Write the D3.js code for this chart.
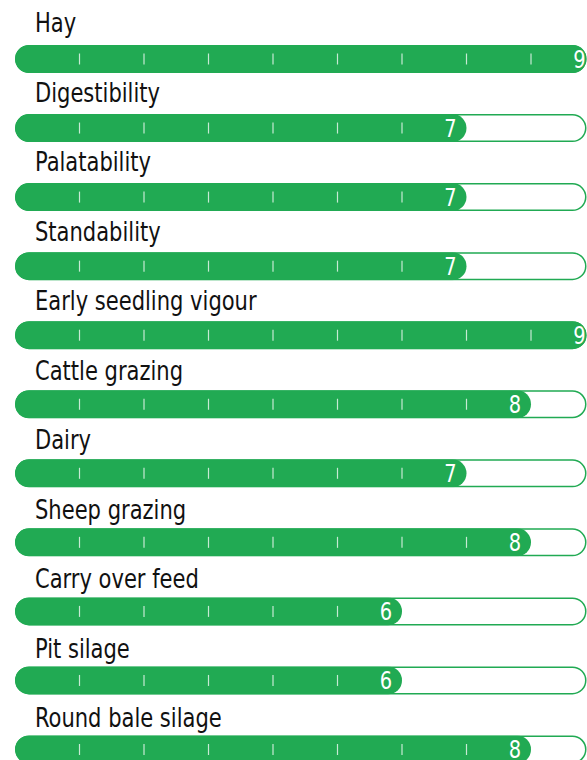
<!DOCTYPE html>
<html>
<head>
<meta charset="utf-8">
<script src="https://cdn.jsdelivr.net/npm/d3@7"></script>
<style>
  html, body { margin: 0; padding: 0; background: #fff; }
  svg { display: block; }
  .label { font-family: "DejaVu Sans Condensed", "Liberation Sans Narrow", sans-serif; font-size: 26px; fill: #111; }
  .value { font-family: "DejaVu Sans Condensed", "Liberation Sans Narrow", sans-serif; font-size: 24px; fill: #fff; }
</style>
</head>
<body>
<div class="chart"></div>
<script>
const categories = ['Hay', 'Digestibility', 'Palatability', 'Standability', 'Early seedling vigour',
    'Cattle grazing', 'Dairy', 'Sheep grazing', 'Carry over feed', 'Pit silage', 'Round bale silage'];
const ratings = [9, 7, 7, 7, 9, 8, 7, 8, 6, 6, 8];
const tickValues = [1, 2, 3, 4, 5, 6, 7, 8];

const width = 587;
const height = 760;
const green = '#21aa53';
const barHeight = 28;
const trackLeft = 15;
const trackRight = 586.5;
const squeeze = 0.9; // the original type is a condensed face

const svg = d3.select('.chart').append('svg')
    .attr('width', width)
    .attr('height', height);

const x = d3.scaleLinear()
    .domain([0, 9])
    .range([trackLeft, trackLeft + 64.5 * 9]);

// bar tops and label baselines step a little differently
const y = d3.scaleLinear()
    .domain([0, categories.length - 1])
    .range([45, 735.5]);

const yLabel = d3.scaleLinear()
    .domain([0, categories.length - 1])
    .range([32.3, 727.3]);

const data = categories.map((name, i) => ({ name, value: ratings[i], i }));

const defs = svg.append('defs');
defs.selectAll('clipPath')
    .data(data)
    .join('clipPath')
    .attr('id', d => 'clip' + d.i)
    .append('rect')
    .attr('x', trackLeft)
    .attr('y', d => y(d.i))
    .attr('width', trackRight - trackLeft)
    .attr('height', barHeight)
    .attr('rx', barHeight / 2);

const rows = svg.selectAll('g.row')
    .data(data)
    .join('g')
    .attr('class', 'row');

rows.append('text')
    .attr('class', 'label')
    .attr('transform', d => `translate(35,${yLabel(d.i)}) scale(${squeeze},1)`)
    .text(d => d.name);

// empty track
rows.append('rect')
    .attr('x', trackLeft + 0.75)
    .attr('y', d => y(d.i) + 0.75)
    .attr('width', trackRight - trackLeft - 1.5)
    .attr('height', barHeight - 1.5)
    .attr('rx', barHeight / 2 - 0.75)
    .attr('fill', '#fff')
    .attr('stroke', green)
    .attr('stroke-width', 1.5);

// filled part
rows.append('rect')
    .attr('clip-path', d => `url(#clip${d.i})`)
    .attr('x', trackLeft)
    .attr('y', d => y(d.i))
    .attr('width', d => x(d.value) - trackLeft)
    .attr('height', barHeight)
    .attr('rx', barHeight / 2)
    .attr('fill', green);

rows.each(function(d) {
    d3.select(this).selectAll('line.tick')
        .data(tickValues.filter(t => t < d.value))
        .join('line')
        .attr('class', 'tick')
        .attr('x1', t => x(t))
        .attr('x2', t => x(t))
        .attr('y1', y(d.i) + 8.5)
        .attr('y2', y(d.i) + barHeight - 8.5)
        .attr('stroke', '#fff')
        .attr('stroke-opacity', 0.75)
        .attr('stroke-width', 1.2);
});

rows.append('text')
    .attr('class', 'value')
    .attr('text-anchor', 'end')
    .attr('transform', d => `translate(${x(d.value) - 10},${y(d.i) + barHeight / 2 + 8.5}) scale(${squeeze},1)`)
    .text(d => d.value);
</script>
</body>
</html>
